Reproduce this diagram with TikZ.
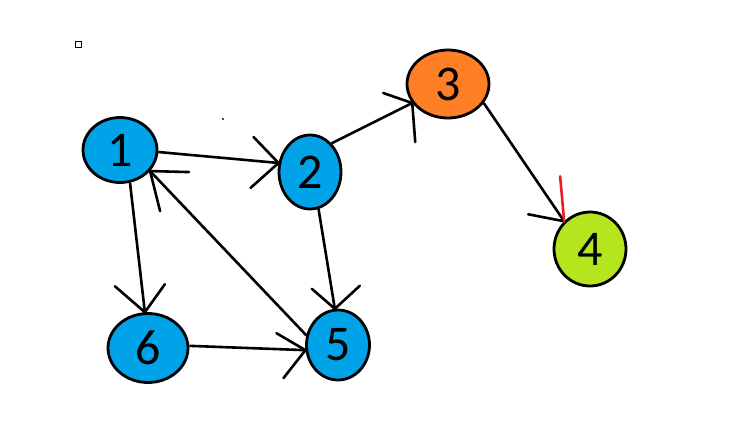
\documentclass[tikz,border=0pt]{standalone}
\usepackage{fontspec}
\setmainfont{Carlito}
\usetikzlibrary{shapes.geometric,positioning}
\definecolor{paintblue}{RGB}{0,162,232}
\definecolor{paintorange}{RGB}{255,127,39}
\definecolor{paintlime}{RGB}{181,230,29}
\definecolor{paintred}{RGB}{237,28,36}
\tikzset{
  vertex/.style={ellipse,draw=black,line width=2.8pt,inner sep=0pt,font=\fontsize{50}{50}\selectfont},
  bluev/.style={vertex,fill=paintblue},
  line/.style={draw,line width=2.6pt},
  barb/.style={draw,line width=2.6pt,line cap=round},
}

\begin{document}
\begin{tikzpicture}[x=1pt, y=-1pt]
   \useasboundingbox (0,0) rectangle (744,437);
   \node[bluev, minimum width=74pt, minimum height=65pt] (v1) at (120,150) {1};
   \node[bluev, minimum width=62pt, minimum height=74pt] (v2) at (310,172) {2};
   \node[vertex, fill=paintorange, minimum width=82pt, minimum height=68pt] (v3) at (448,84) {3};
   \node[vertex, fill=paintlime, minimum width=72pt, minimum height=74pt] (v4) at (590,249) {4};
   \node[bluev, minimum width=63pt, minimum height=70pt] (v5) at (338,345) {5};
   \node[bluev, minimum width=80pt, minimum height=69pt] (v6) at (148,348) {6};

   % stray marks
   \draw[line width=1pt] (75,41) rectangle (81,47);
   \fill[black!70] (222,118) rectangle (224,120);

  \path[line]
    (v1.-3) edge coordinate[pos=1] (h12) (v2.164)
    (v1.-73) edge coordinate[pos=1] (h16) (v6.95)
    (v5.163) edge coordinate[pos=1] (h51) (v1.-35)
    (v2.-77) edge coordinate[pos=1] (h25) (v5.95)
    (v2.53) edge coordinate[pos=1] (h23) (v3.208)
    (v6.3) edge coordinate[pos=1] (h65) (v5.189)
    (v3.-28) edge coordinate[pos=1] (h34) (v4.133);

  % hand drawn heads
  \draw[barb] (h12) -- +(-25,-26) (h12) -- +(-28,25);
  \draw[barb] (h16) -- +(-30,-26) (h16) -- +(20,-28);
  \draw[barb] (h51) -- +(39,1) (h51) -- +(10,40);
  \draw[barb] (h25) -- +(-23,-20) (h25) -- +(25,-23);
  \draw[barb] (h23) -- +(-29,-10) (h23) -- +(3,39);
  \draw[barb] (h65) -- +(-29,-17) (h65) -- +(-22,28);
  \draw[barb] (h34) -- +(-36,-7);
  \draw[barb, draw=paintred] (h34) -- +(-4,-45);
\end{tikzpicture}
\end{document}
